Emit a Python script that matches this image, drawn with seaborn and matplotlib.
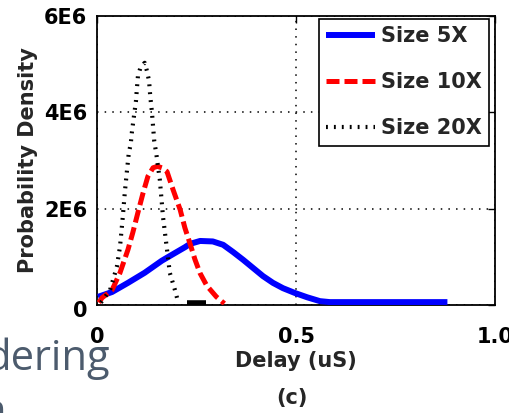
import matplotlib
matplotlib.use("Agg")
import matplotlib.pyplot as plt
import matplotlib.transforms as mtransforms
import seaborn as sns
import pandas as pd

# ---- data ----
delay_5x = [0.003, 0.038, 0.078, 0.12, 0.163, 0.196, 0.221, 0.234, 0.259, 0.291,
            0.317, 0.342, 0.367, 0.392, 0.417, 0.442, 0.467, 0.497, 0.528, 0.56,
            0.585, 0.70, 0.80, 0.88]
dens_5x = [0.17e6, 0.27e6, 0.46e6, 0.67e6, 0.92e6, 1.08e6, 1.20e6, 1.27e6, 1.33e6,
           1.32e6, 1.25e6, 1.10e6, 0.94e6, 0.77e6, 0.60e6, 0.46e6, 0.35e6, 0.25e6,
           0.16e6, 0.08e6, 0.06e6, 0.06e6, 0.06e6, 0.06e6]

delay_10x = [0.005, 0.013, 0.038, 0.058, 0.078, 0.09, 0.103, 0.116, 0.128, 0.141,
             0.152, 0.163, 0.176, 0.191, 0.209, 0.221, 0.234, 0.246, 0.259, 0.276,
             0.30, 0.32]
dens_10x = [0.05e6, 0.15e6, 0.31e6, 0.67e6, 1.15e6, 1.5e6, 1.92e6, 2.33e6, 2.67e6,
            2.85e6, 2.88e6, 2.85e6, 2.77e6, 2.4e6, 1.98e6, 1.6e6, 1.27e6, 0.95e6,
            0.66e6, 0.40e6, 0.17e6, 0.03e6]

delay_20x = [0.01, 0.033, 0.05, 0.058, 0.065, 0.07, 0.075, 0.08, 0.085, 0.088, 0.093,
             0.098, 0.100, 0.103, 0.11, 0.12, 0.126, 0.131, 0.134, 0.138, 0.141,
             0.144, 0.149, 0.153, 0.158, 0.166, 0.176, 0.183, 0.196, 0.204]
dens_20x = [0.05e6, 0.31e6, 0.79e6, 1.21e6, 1.83e6, 2.33e6, 2.75e6, 3.15e6, 3.35e6,
            3.6e6, 3.92e6, 4.23e6, 4.45e6, 4.75e6, 4.95e6, 5.03e6, 4.85e6, 4.65e6,
            4.33e6, 4.02e6, 3.71e6, 3.4e6, 3.15e6, 2.9e6, 2.6e6, 1.83e6, 1.15e6,
            0.67e6, 0.31e6, 0.06e6]

tail_delay = [0.226, 0.274]
tail_dens = [0.05e6, 0.05e6]

x_ticks = [0, 0.5, 1.0]
x_tick_labels = ["0", "0.5", "1.0"]
y_ticks = [0, 2e6, 4e6, 6e6]
y_tick_labels = ["0", "2E6", "4E6", "6E6"]
series_labels = ["Size 5X", "Size 10X", "Size 20X"]

# ---- style ----
sns.set_style("white")
plt.rcParams["font.family"] = ["DejaVu Sans"]
plt.rcParams["font.weight"] = "bold"

fig = plt.figure(figsize=(5.10, 4.13), dpi=100)
ax = fig.add_axes([0.190, 0.2615, 0.781, 0.6995])

df5 = pd.DataFrame({"delay": delay_5x, "density": dens_5x})
df10 = pd.DataFrame({"delay": delay_10x, "density": dens_10x})
df20 = pd.DataFrame({"delay": delay_20x, "density": dens_20x})
dft = pd.DataFrame({"delay": tail_delay, "density": tail_dens})

sns.lineplot(data=df5, x="delay", y="density", ax=ax, color="#0000ff", lw=4.3,
             sort=False, label=series_labels[0], solid_capstyle="butt",
             solid_joinstyle="round", zorder=3)
sns.lineplot(data=df10, x="delay", y="density", ax=ax, color="#ff0000", lw=3.6,
             sort=False, label=series_labels[1], zorder=4)
sns.lineplot(data=df20, x="delay", y="density", ax=ax, color="black", lw=3.0,
             sort=False, label=series_labels[2], zorder=5)
sns.lineplot(data=dft, x="delay", y="density", ax=ax, color="black", lw=4,
             sort=False, legend=False, solid_capstyle="butt", zorder=5)

lines = ax.get_lines()
lines[1].set_dashes((2.6, 1.0))
lines[2].set_dashes((0.45, 1.45))

ax.set_xlim(0, 1.0)
ax.set_ylim(0, 6e6)
ax.set_xticks(x_ticks)
ax.set_xticklabels(x_tick_labels)
ax.set_yticks(y_ticks)
ax.set_yticklabels(y_tick_labels)
ax.tick_params(direction="in", length=5, width=1, top=True, right=True,
               labelsize=15, pad=7, colors="black")
ax.tick_params(axis="x", pad=16)
for lbl in ax.get_xticklabels() + ax.get_yticklabels():
    lbl.set_fontweight("bold")
# MATLAB places the y "0" label slightly below the axis corner
y0 = ax.get_yticklabels()[0]
y0.set_transform(y0.get_transform() + mtransforms.ScaledTranslation(0, -4 / 100, fig.dpi_scale_trans))

ax.grid(True, linestyle=(0, (1, 4)), color="black", lw=1.1)
for s in ax.spines.values():
    s.set_color("black")
    s.set_linewidth(1.3)

ax.set_xlabel("Delay (uS)", fontsize=15, fontweight="bold", labelpad=3)
ax.set_ylabel("Probability Density", fontsize=15, fontweight="bold", labelpad=4)

leg = ax.legend(loc="upper right", bbox_to_anchor=(0.985, 0.99), fontsize=15,
                frameon=True, fancybox=False, edgecolor="black", framealpha=1,
                handlelength=2.35, handletextpad=0.3, labelspacing=1.25,
                borderpad=0.35, borderaxespad=0)
leg.get_frame().set_linewidth(1.2)
for t in leg.get_texts():
    t.set_fontweight("bold")

fig.text(292 / 510, 1 - 398 / 413, "(c)", ha="center", va="center",
         fontsize=15, fontweight="bold")

# overlapping slide text fragments
fig.text(-14 / 510, 1 - 370 / 413, "dering", ha="left", va="baseline",
         fontsize=30, family="Open Sans", fontweight="normal", color="#4c5b6d")
fig.text(6 / 510, 1 - 424 / 413, "n", ha="right", va="baseline",
         fontsize=30, family="Open Sans", fontweight="normal", color="#4c5b6d")

fig.savefig("out.png", dpi=100)
